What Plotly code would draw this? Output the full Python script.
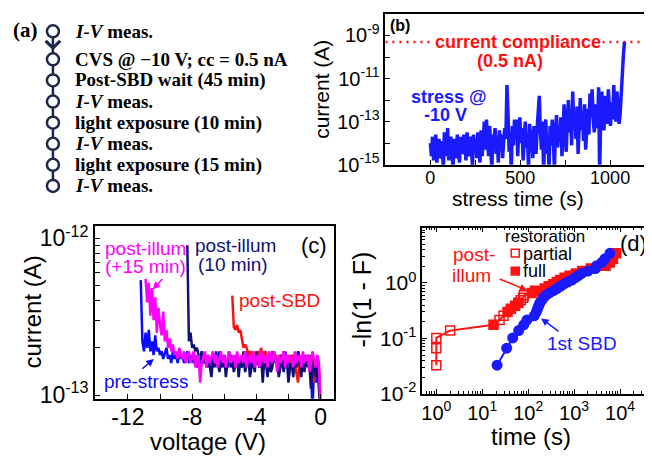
import plotly.graph_objects as go

# The page body has an 8 px margin, so the figure is drawn 8 px in from the
# top-left corner; all positions below are given in reference-picture pixels.
OFF = 8
W, H = 652 - OFF, 457 - OFF
def px(x):
    return (x - OFF) / W
def py(y):
    return 1 - (y - OFF) / H

# ---------------- data ----------------
# (a) measurement sequence
steps = ["<i>I-V</i> meas.", "CVS @ \u221210 V; cc = 0.5 nA", "Post-SBD wait (45 min)",
         "<i>I-V</i> meas.", "light exposure (10 min)", "<i>I-V</i> meas.",
         "light exposure (15 min)", "<i>I-V</i> meas."]

# (b) stress current vs time, log10(current / A), sampled every 6 s
b_time_step = 6
b_log_current = [
    -14.0, -14.6, -13.7, -14.8, -14.1, -13.6, -14.9, -14.3, -13.8, -14.5,
    -14.7, -13.9, -15.3, -13.5, -14.2, -14.6, -13.3, -14.8, -14.0, -13.7,
    -14.4, -15.2, -13.8, -14.1, -14.7, -13.6, -14.3, -14.9, -13.7, -14.2,
    -14.5, -13.6, -14.0, -14.8, -13.5, -14.3, -14.6, -13.7, -14.1, -15.1,
    -13.6, -14.4, -13.8, -14.7, -13.5, -14.2, -14.9, -13.4, -14.6, -13.9,
    -13.0, -14.3, -12.9, -13.8, -14.6, -13.2, -14.1, -15.2, -13.6, -14.0,
    -13.3, -14.5, -13.7, -14.9, -13.4, -14.2, -13.6, -14.7, -13.9, -13.3,
    -13.8, -11.3, -12.6, -14.4, -13.5, -15.3, -13.2, -14.1, -12.9, -13.8,
    -12.9, -14.6, -13.4, -12.8, -14.0, -13.3, -14.8, -13.5, -13.0, -14.2,
    -13.6, -15.2, -13.1, -14.0, -13.4, -14.7, -13.2, -13.9, -14.5, -13.3,
    -12.6, -11.8, -13.4, -14.3, -13.0, -15.4, -13.7, -12.9, -14.5, -13.6,
    -15.3, -13.2, -14.1, -12.9, -13.8, -15.2, -13.5, -12.7, -14.2, -13.4,
    -13.9, -12.8, -14.6, -13.1, -12.2, -13.7, -14.4, -12.9, -12.0, -13.5,
    -12.4, -14.1, -11.6, -13.2, -12.6, -13.8, -12.3, -14.5, -12.7, -11.9,
    -13.4, -12.5, -13.9, -12.2, -14.3, -13.0, -12.4, -13.6, -11.7, -12.8,
    -11.5, -12.9, -13.5, -12.2, -12.8, -13.3, -11.4, -15.4, -12.6, -11.6,
    -12.9, -13.4, -11.8, -12.5, -13.1, -11.5, -12.7, -13.2, -12.1, -12.9,
    -11.3, -12.4, -13.0, -11.6, -12.8, -13.1, -12.6, -11.9, -10.8, -9.9,
    -9.3,
]
compliance_A = 5e-10
b_time_axis = [-250, 1250]

# (c) I-V sweeps, current in units of 1e-13 A, voltage step -0.1 V from 0 V
c_volt_step = -0.1
c_prestress = [
    0.7, 1.4, 1.7, 1.2, 1.6, 0.8, 1.5, 1.8, 1.6, 1.7,
    1.5, 1.8, 1.6, 1.7, 1.9, 1.5, 1.7, 1.6, 1.8, 1.5,
    1.7, 1.6, 1.9, 1.5, 1.7, 1.8, 1.6, 1.5, 1.7, 1.8,
    1.6, 1.7, 1.5, 1.8, 1.6, 1.9, 1.6, 1.7, 1.5, 1.7,
    1.8, 1.6, 1.7, 1.5, 1.8, 1.6, 1.7, 1.9, 1.6, 1.5,
    1.7, 1.6, 1.8, 1.5, 1.7, 1.6, 1.8, 1.7, 1.5, 1.6,
    1.8, 1.6, 1.7, 1.9, 1.5, 1.7, 1.6, 1.8, 1.6, 1.7,
    1.5, 1.8, 1.6, 1.7, 1.9, 1.6, 1.7, 1.5, 1.8, 1.6,
    1.7, 1.8, 1.6, 1.9, 1.7, 1.6, 1.8, 1.7, 1.9, 1.6,
    1.8, 1.7, 1.9, 1.6, 1.8, 1.7, 2.0, 1.8, 1.7, 1.9,
    1.8, 2.0, 1.9, 2.4, 1.8, 2.2, 1.9, 2.6, 2.0, 2.5,
    1.9, 2.2, 5.4,
]
c_post_sbd = [
    0.9, 1.5, 1.3, 1.6, 1.2, 1.7, 1.5, 1.8, 1.6, 1.7,
    1.5, 1.8, 1.6, 1.7, 1.2, 1.4, 1.6, 1.8, 1.7, 1.6,
    1.8, 1.6, 1.7, 1.9, 1.6, 1.8, 1.7, 1.6, 1.8, 1.7,
    1.9, 1.7, 1.8, 1.6, 1.9, 1.8, 1.7, 2.0, 1.8, 1.9,
    1.8, 1.7, 1.9, 1.8, 1.9, 1.8, 2.0, 2.1, 2.0, 2.3,
    2.6, 2.5, 2.8, 2.6, 2.7, 4.3,
]
c_illum_10 = [
    0.8, 1.2, 1.5, 1.3, 1.7, 1.4, 1.1, 1.6, 1.5, 1.8,
    1.4, 1.7, 1.3, 1.6, 1.9, 1.5, 1.7, 1.3, 1.6, 1.5,
    1.2, 1.7, 1.6, 1.4, 1.8, 1.5, 1.3, 1.7, 1.6, 1.9,
    1.5, 1.4, 1.8, 1.3, 1.6, 1.7, 1.2, 1.8, 1.5, 1.6,
    1.9, 1.4, 1.7, 1.5, 1.3, 1.8, 1.6, 1.4, 1.9, 1.5,
    1.7, 1.3, 1.8, 1.6, 1.4, 1.7, 1.5, 1.9, 1.6, 1.3,
    1.8, 1.5, 1.7, 1.4, 1.6, 1.9, 1.5, 1.7, 1.3, 1.6,
    1.8, 1.5, 1.7, 1.6, 1.9, 1.7, 1.8, 2.0, 1.9, 2.1,
    2.0, 2.5, 2.2, 9.0,
]
c_illum_15 = [
    0.8, 1.6, 1.8, 1.5, 1.7, 1.9, 1.6, 1.4, 1.8, 1.7,
    1.6, 1.9, 1.5, 1.8, 1.7, 1.6, 1.9, 1.5, 1.7, 1.8,
    1.6, 1.8, 1.5, 1.9, 1.7, 1.6, 1.8, 1.4, 1.7, 1.9,
    1.6, 1.7, 1.9, 1.5, 1.8, 1.6, 1.7, 1.9, 1.5, 1.8,
    1.7, 1.5, 1.9, 1.6, 1.8, 1.7, 1.5, 1.9, 1.6, 1.8,
    1.7, 1.6, 1.9, 1.5, 1.8, 1.7, 1.6, 1.9, 1.7, 1.5,
    1.8, 1.6, 1.9, 1.7, 1.5, 1.8, 1.6, 1.9, 1.7, 1.6,
    1.8, 1.5, 1.9, 1.7, 1.6, 1.2, 1.8, 1.7, 1.5, 1.9,
    1.7, 1.6, 1.9, 1.8, 1.6, 1.9, 1.7, 1.8, 2.0, 1.7,
    1.9, 1.8, 2.1, 1.9, 2.3, 2.0, 2.6, 2.2, 3.4, 2.4,
    2.8, 3.6, 2.5, 4.2, 3.0, 4.8, 3.2, 5.2, 3.9, 5.5,
]

# (d) Weibull plot
d_weibull = [0.0328, 0.0667, 0.1018, 0.1382, 0.1759, 0.2151, 0.2559, 0.2985, 0.3430, 0.3895,
             0.4383, 0.4895, 0.5436, 0.6008, 0.6614, 0.7259, 0.7949, 0.8690, 0.9491, 1.0361,
             1.1314, 1.2368, 1.3545, 1.4881, 1.6422, 1.8245, 2.0477, 2.3354, 2.7408, 3.4340]
d_sbd_time = [21, 34, 46, 62, 80, 94, 135, 150, 160, 170,
              180, 198, 215, 245, 290, 355, 420, 500, 590, 720,
              890, 1050, 1230, 1450, 2000, 2900, 3100, 4000, 4700, 6000]
d_illum_time = [1, 1, 1, 2, 17.6, 23.8, 29, 35.5, 42, 52,
                61, 69, 78, 81, 120, 141, 230, 280, 350, 420,
                500, 620, 800, 1100, 1500, 2300, 4800, 6000, 7000, 8200]
d_illum_kind = ["partial", "partial", "partial", "partial", "full", "partial", "partial", "full", "full", "full",
                "full", "partial", "partial", "partial", "full", "full", "full", "full", "full", "full",
                "full", "full", "full", "full", "full", "full", "full", "full", "full", "full"]

# ---------------- styles ----------------
NAVY_A = "#1b2a4a"
BLUE = "#1a1aff"
BLUE_C = "#0a0aff"
RED = "#ff1010"
MAG = "#ff00ff"
NAVY = "#10107a"
SANS = "Liberation Sans, Arial, sans-serif"
SERIF = "Liberation Serif, Times New Roman, serif"

fig = go.Figure()

# ---- (a)
ARROW_GAP = 0.33
step_y = [i if i > 0 else -ARROW_GAP for i in range(len(steps))]
fig.add_trace(go.Scatter(
    x=[0] * len(steps), y=step_y, mode="lines+markers",
    line=dict(color=NAVY_A, width=2.5),
    marker=dict(symbol="circle", size=12, color="white", line=dict(color=NAVY_A, width=2.5)),
    xaxis="x4", yaxis="y4", hoverinfo="skip"))

# ---- (b)
b_time = [i * b_time_step for i in range(len(b_log_current))]
b_current = [10 ** v for v in b_log_current]
fig.add_trace(go.Scatter(x=b_time_axis, y=[compliance_A] * 2, mode="lines",
                         line=dict(color=RED, width=2.5, dash="2px,5px"), xaxis="x", yaxis="y"))
fig.add_trace(go.Scatter(x=b_time, y=b_current, mode="lines",
                         line=dict(color=BLUE, width=3.5), xaxis="x", yaxis="y"))

# ---- (c)
def volts(n):
    return [round(i * c_volt_step, 2) for i in range(n)]
for vals, col in [(c_prestress, BLUE_C), (c_post_sbd, RED), (c_illum_10, NAVY), (c_illum_15, MAG)]:
    fig.add_trace(go.Scatter(x=volts(len(vals)), y=[v * 1e-13 for v in vals], mode="lines",
                             line=dict(color=col, width=2.5), xaxis="x2", yaxis="y2"))

# ---- (d)
fig.add_trace(go.Scatter(x=d_illum_time, y=d_weibull, mode="lines",
                         line=dict(color=RED, width=2), xaxis="x3", yaxis="y3"))
for kind, sym in [("partial", "square-open"), ("full", "square")]:
    xs = [t for t, k in zip(d_illum_time, d_illum_kind) if k == kind]
    ys = [f for f, k in zip(d_weibull, d_illum_kind) if k == kind]
    fig.add_trace(go.Scatter(x=xs, y=ys, mode="markers",
                             marker=dict(symbol=sym, size=9, color=RED, line=dict(color=RED, width=1.5)),
                             xaxis="x3", yaxis="y3"))
fig.add_trace(go.Scatter(x=d_sbd_time, y=d_weibull, mode="lines+markers",
                         line=dict(color=BLUE, width=2),
                         marker=dict(symbol="circle", size=11, color=BLUE),
                         xaxis="x3", yaxis="y3"))

# ---------------- axes ----------------
common = dict(showline=True, linecolor="black", linewidth=1.5, ticks="inside", ticklen=5,
              tickwidth=1, tickcolor="black", showgrid=False, zeroline=False)

def sup(e):
    return "10<sup>%d</sup>" % e

def tfont(size):
    return dict(family=SANS, size=size, color="black")

b_ticks = [-250, 0, 250, 500, 750, 1000, 1250]
# panel (a) helper axis: step index -> picture rows
A_TOP, A_BOT, A_ROW1, A_STEP = 8, 200, 57, 21.83
A_LEFT, A_RIGHT, A_COLX = 8, 330, 52
fig.update_layout(
    xaxis=dict(common, domain=[px(385), 1.0], range=[-250, 1233], mirror=True,
               tickvals=b_ticks, ticktext=["", "0", "", "500", "", "1000", ""],
               tickfont=tfont(18), ticklabelstandoff=-4, anchor="y"),
    yaxis=dict(common, domain=[py(166), py(10)], type="log", range=[-15, -8.0], mirror=False,
               tickvals=[10.0 ** e for e in range(-15, -8)],
               ticktext=[sup(e) if e % 2 else "" for e in range(-15, -8)],
               tickfont=tfont(20), anchor="x"),
    xaxis2=dict(common, domain=[px(94), px(334)], range=[-14.06, 0.87], mirror=True,
                tickvals=[-14, -12, -10, -8, -6, -4, -2, 0],
                ticktext=["", "-12", "", "-8", "", "-4", "", "0"],
                tickfont=tfont(23), ticklabelstandoff=-3, anchor="y2"),
    yaxis2=dict(common, domain=[py(408), py(229)], type="log", range=[-13.023, -11.92], mirror=True,
                tickvals=[k * 1e-13 for k in range(1, 10)] + [1e-12],
                ticktext=[sup(-13)] + [""] * 8 + [sup(-12)],
                tickfont=tfont(23), anchor="x2"),
    xaxis3=dict(common, domain=[px(422), px(650)], type="log", range=[-0.304, 4.652], mirror="allticks",
                tickvals=[10.0 ** e for e in range(0, 5)], ticktext=[sup(e) for e in range(0, 5)],
                minor=dict(ticks="inside", ticklen=3, tickcolor="black",
                           tickvals=[k * 10.0 ** e for e in range(-1, 5) for k in range(2, 10)]),
                tickfont=tfont(20), anchor="y3"),
    yaxis3=dict(common, domain=[py(403), py(231)], type="log", range=[-2, 1], mirror="allticks",
                tickvals=[0.01, 0.1, 1, 10], ticktext=[sup(-2), sup(-1), sup(0), ""],
                minor=dict(ticks="inside", ticklen=3, tickcolor="black",
                           tickvals=[k * 10.0 ** e for e in range(-2, 1) for k in range(2, 10)]),
                tickfont=tfont(21), anchor="x3"),
    xaxis4=dict(domain=[px(A_LEFT), px(A_RIGHT)],
                range=[-(A_COLX - A_LEFT) / (A_RIGHT - A_LEFT), 1 - (A_COLX - A_LEFT) / (A_RIGHT - A_LEFT)],
                visible=False, anchor="y4"),
    yaxis4=dict(domain=[py(A_BOT), py(A_TOP)],
                range=[1 + (A_BOT - A_ROW1) / A_STEP, 1 - (A_ROW1 - A_TOP) / A_STEP],
                visible=False, anchor="x4"),
)

# ---------------- annotations ----------------
ann = []
def txt(x, y, s, size, color="black", xanchor="center", angle=0, family=SANS, bg=None):
    d = dict(x=px(x), y=py(y), xref="paper", yref="paper", text=s, showarrow=False,
             xanchor=xanchor, yanchor="middle", textangle=angle,
             font=dict(family=family, size=size, color=color))
    if bg:
        d["bgcolor"] = bg
    ann.append(d)

def arrow(hx, hy, tx, ty, color, width=1.5):
    ann.append(dict(x=px(hx), y=py(hy), xref="paper", yref="paper", ax=tx - hx, ay=ty - hy,
                    text="", showarrow=True, arrowhead=2, arrowsize=1, arrowwidth=width,
                    arrowcolor=color))

# (a)
txt(25, 27, "<b>(a)</b>", 21, family=SERIF)
for s, y in zip(steps, step_y):
    ann.append(dict(x=0, y=y, xref="x4", yref="y4", text="<b>" + s + "</b>", showarrow=False,
                    xanchor="left", yanchor="middle", xshift=20,
                    font=dict(family=SERIF, size=19, color="black")))
ann.append(dict(x=0, y=step_y[1], xref="x4", yref="y4", ax=0, ay=-20, text="", showarrow=True,
                arrowhead=4, arrowsize=1.4, arrowwidth=2, arrowcolor=NAVY_A, standoff=9))

# (b)
txt(400, 22, "<b>(b)</b>", 16)
txt(518, 39, "<b>current compliance</b>", 18, RED, bg="white")
txt(510, 59, "<b>(0.5 nA)</b>", 18, RED)
txt(449, 96, "<b>stress @</b>", 18, BLUE)
txt(445, 115, "<b>-10 V</b>", 18, BLUE)
txt(518, 201, "stress time (s)", 21)
txt(321, 88, "current (A)", 21, angle=-90)

# (c)
txt(102, 253, "post-illum", 19, MAG, xanchor="left")
txt(102, 271, "(+15 min)", 19, MAG, xanchor="left")
arrow(152, 295, 163, 283, MAG)
txt(192, 250, "post-illum", 19, NAVY, xanchor="left")
txt(195, 269, "(10 min)", 19, NAVY, xanchor="left")
txt(236, 306, "post-SBD", 19, RED, xanchor="left")
txt(101, 390, "pre-stress", 19, BLUE_C, xanchor="left")
arrow(153, 367, 140, 378, BLUE_C)
txt(313, 250, "(c)", 22)
txt(207, 452, "voltage (V)", 24)
txt(32, 318, "current (A)", 24, angle=-90)

# (d)
txt(545, 240, "restoration", 17)
txt(521, 258, "partial", 18, xanchor="left")
txt(521, 276, "full", 18, xanchor="left")
txt(451, 259, "post-", 19, RED, xanchor="left")
txt(450, 281, "illum", 19, RED, xanchor="left")
arrow(527, 296, 498, 284, RED)
txt(545, 351, "1st SBD", 19, BLUE, xanchor="left")
arrow(541, 325, 560, 339, BLUE)
txt(633, 247, "(d)", 22)
txt(531, 447, "time (s)", 24)
txt(362, 305, "-ln(1 - F)", 25, angle=-90)

shapes = [
    dict(type="rect", xref="paper", yref="paper", x0=px(511), x1=px(519), y0=py(261.5), y1=py(253.5),
         line=dict(color=RED, width=1.5), fillcolor="rgba(0,0,0,0)"),
    dict(type="rect", xref="paper", yref="paper", x0=px(511), x1=px(519), y0=py(280), y1=py(272),
         line=dict(color=RED, width=1.5), fillcolor=RED),
]

fig.update_layout(
    width=W, height=H, margin=dict(l=0, r=0, t=0, b=0),
    paper_bgcolor="white", plot_bgcolor="white", showlegend=False,
    font=dict(family=SANS, color="black"),
    annotations=ann, shapes=shapes,
)

fig.write_html("out.html")
